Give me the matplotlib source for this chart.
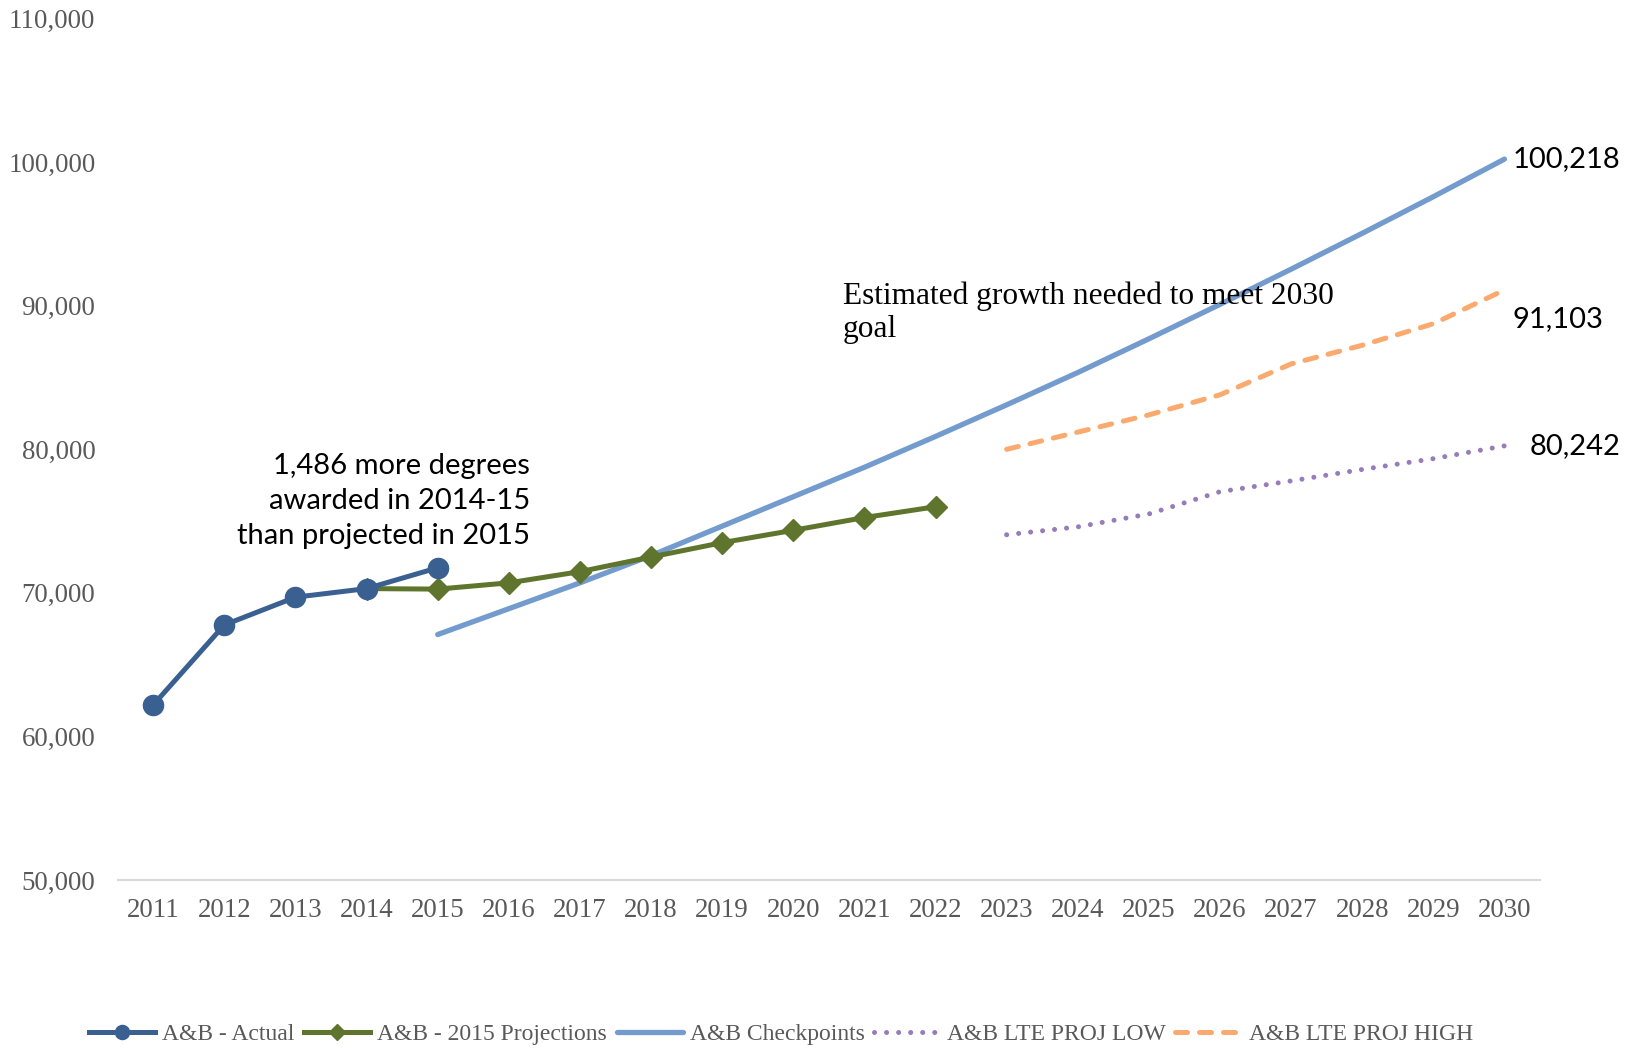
import matplotlib
matplotlib.use("Agg")
import matplotlib.pyplot as plt
from matplotlib.ticker import FuncFormatter

# ---- data ----
years = list(range(2011, 2031))
actual_years = [2011, 2012, 2013, 2014, 2015]
actual = [62200, 67770, 69700, 70300, 71750]
proj_years = [2014, 2015, 2016, 2017, 2018, 2019, 2020, 2021, 2022]
proj = [70300, 70264, 70700, 71480, 72500, 73500, 74360, 75250, 76000]
check_years = list(range(2015, 2031))
checkpoints = [67100, 68900, 70700, 72600, 74650, 76700, 78750, 80900,
               83100, 85350, 87700, 90100, 92550, 95050, 97600, 100218]
lte_years = list(range(2023, 2031))
lte_low = [74050, 74600, 75500, 77050, 77800, 78600, 79350, 80242]
lte_high = [80000, 81200, 82400, 83800, 85950, 87250, 88750, 91103]

series_names = ["A&B - Actual", "A&B - 2015 Projections", "A&B Checkpoints",
                "A&B LTE PROJ LOW", "A&B LTE PROJ HIGH"]
note_left = "1,486 more degrees\nawarded in 2014-15\nthan projected in 2015"
note_right = "Estimated growth needed to meet 2030\ngoal"

# ---- style ----
W, H = 1633, 1053
fig = plt.figure(figsize=(W / 100, H / 100), dpi=100)
L, R, T, B = 117.7, 1540, 18.7, 880
ax = fig.add_axes([L / W, 1 - B / H, (R - L) / W, (B - T) / H])

serif = ["Liberation Serif", "DejaVu Serif"]
sans = ["Lato", "DejaVu Sans"]
grey = "#595959"

c_act = "#3A6092"
c_proj = "#5F752D"
c_chk = "#739BCD"
c_low = "#967DB9"
c_high = "#FAAA6E"

h_chk, = ax.plot(check_years, checkpoints, color=c_chk, lw=3.8, solid_capstyle="round",
                 label=series_names[2], zorder=2)
h_proj, = ax.plot(proj_years, proj, color=c_proj, lw=3.6, marker="D", markersize=11,
                  label=series_names[1], zorder=3)
h_act, = ax.plot(actual_years, actual, color=c_act, lw=3.6, marker="o", markersize=14.5,
                 label=series_names[0], zorder=4)
h_low, = ax.plot(lte_years, lte_low, color=c_low, lw=3.6, linestyle=(0, (0.01, 2.4)),
                 dash_capstyle="round", label=series_names[3], zorder=2)
h_high, = ax.plot(lte_years, lte_high, color=c_high, lw=3.6, linestyle=(0, (2.4, 2.4)),
                  dash_capstyle="round", label=series_names[4], zorder=2)

ax.set_xlim(2010.5, 2030.5)
ax.set_ylim(50000, 110000)
ax.set_xticks(years)
ax.set_xticklabels([str(y) for y in years])
ax.set_yticks(range(50000, 110001, 10000))
ax.yaxis.set_major_formatter(FuncFormatter(lambda v, p: f"{int(v):,}"))
for s in ["top", "right", "left"]:
    ax.spines[s].set_visible(False)
ax.spines["bottom"].set_color("#D9D9D9")
ax.spines["bottom"].set_linewidth(1.5)
ax.tick_params(axis="both", length=0, labelcolor=grey, labelsize=19.4)
ax.tick_params(axis="y", pad=16)
ax.tick_params(axis="x", pad=13)
for lab in ax.get_xticklabels() + ax.get_yticklabels():
    lab.set_family(serif)

# end labels
ax.annotate(f"{checkpoints[-1]:,}", (check_years[-1], checkpoints[-1]),
            xytext=(8, 0), textcoords="offset pixels", va="center", ha="left",
            fontsize=21, family=sans, color="black")
ax.annotate(f"{lte_high[-1]:,}", (lte_years[-1], lte_high[-1]),
            xytext=(8, -29), textcoords="offset pixels", va="center", ha="left",
            fontsize=21, family=sans, color="black")
ax.annotate(f"{lte_low[-1]:,}", (lte_years[-1], lte_low[-1]),
            xytext=(25, 0), textcoords="offset pixels", va="center", ha="left",
            fontsize=21, family=sans, color="black")

ax.text(2016.30, 76400, note_left, ha="right", va="center", multialignment="right",
        fontsize=21, family=sans, color="black", linespacing=1.42)
ax.text(2020.70, 89530, note_right, ha="left", va="center", multialignment="left",
        fontsize=22.6, family=serif, color="black", linespacing=1.2)

leg = fig.legend(handles=[h_act, h_proj, h_chk, h_low, h_high],
                 loc="center", bbox_to_anchor=(781 / W, 1 - 1034 / H), ncol=5,
                 frameon=False, handlelength=2.8, handletextpad=0.3,
                 columnspacing=0.4, markerscale=0.7,
                 prop={"family": serif, "size": 17})
for t in leg.get_texts():
    t.set_color(grey)

fig.savefig("out.png", dpi=100)
